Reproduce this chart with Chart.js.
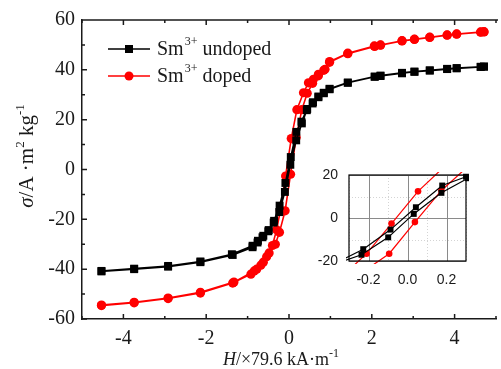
<!DOCTYPE html>
<html><head><meta charset="utf-8">
<script src="https://cdn.jsdelivr.net/npm/chart.js@4/dist/chart.umd.min.js"></script>
<style>
html,body{margin:0;padding:0;background:#fff;overflow:hidden;width:501px;height:369px;}
#wrap{position:relative;width:501px;height:369px;overflow:hidden;background:#fff;}
#main{position:absolute;left:0;top:0;}
#inset{position:absolute;left:300px;top:160px;}
</style></head><body>
<div id="wrap">
<canvas id="main" width="504" height="369" style="width:504px;height:369px"></canvas>
<canvas id="inset" width="200" height="125" style="width:200px;height:125px"></canvas>
</div>
<script>
// ---- data (H in units of 79.6 kA/m, sigma in A·m²/kg) ----
const seriesNames = ['undoped', 'doped'];

const undopedDescH = [4.71, 4.63, 4.05, 3.82, 3.40, 3.03, 2.73, 2.21, 2.07, 1.42, 0.98, 0.84, 0.71, 0.58, 0.44, 0.30, 0.178, 0.043, -0.087, -0.227, -0.36, -0.49, -0.62, -0.75, -0.88, -1.38, -2.14, -2.92, -3.74, -4.53];
const undopedDescS = [41.3, 41.2, 40.7, 40.4, 39.8, 39.3, 38.8, 37.7, 37.3, 34.9, 32.4, 30.8, 29.3, 27.0, 24.3, 19.2, 15.1, 5.0, -5.4, -14.5, -20.6, -24.3, -26.6, -28.6, -30.6, -34.0, -36.9, -38.7, -39.8, -40.7];
const undopedAscH = [-4.53, -3.74, -2.92, -2.14, -1.36, -0.88, -0.76, -0.64, -0.50, -0.37, -0.236, -0.099, 0.032, 0.174, 0.31, 0.43, 0.57, 0.71, 0.84, 0.98, 1.42, 2.07, 2.21, 2.73, 3.03, 3.40, 3.82, 4.05, 4.63, 4.71];
const undopedAscS = [-40.9, -40.0, -39.0, -37.2, -34.3, -31.2, -29.3, -27.2, -24.8, -21.3, -17.1, -9.0, 1.9, 11.7, 18.5, 23.8, 26.5, 29.0, 30.6, 32.2, 34.8, 37.2, 37.5, 38.6, 39.2, 39.7, 40.3, 40.6, 41.2, 41.3];

const dopedDescH = [4.71, 4.63, 4.05, 3.82, 3.40, 3.03, 2.73, 2.21, 2.06, 1.42, 0.98, 0.87, 0.71, 0.59, 0.47, 0.35, 0.19, 0.054, -0.082, -0.21, -0.30, -0.40, -0.54, -0.68, -0.84, -1.33, -2.14, -2.92, -3.74, -4.53];
const dopedDescS = [55.3, 55.2, 54.4, 54.0, 53.1, 52.3, 51.7, 50.0, 49.6, 46.7, 43.3, 40.2, 38.2, 36.2, 34.8, 30.8, 24.0, 12.4, -2.6, -16.6, -24.2, -30.5, -35.0, -38.4, -40.7, -45.2, -49.3, -51.6, -53.3, -54.4];
const dopedAscH = [-4.53, -3.74, -2.92, -2.14, -1.36, -0.92, -0.78, -0.62, -0.48, -0.33, -0.23, -0.094, 0.038, 0.174, 0.31, 0.44, 0.57, 0.71, 0.84, 0.98, 1.42, 2.07, 2.21, 2.73, 3.03, 3.40, 3.82, 4.05, 4.63, 4.71];
const dopedAscS = [-54.6, -53.5, -51.8, -49.6, -45.6, -42.0, -40.0, -37.2, -33.5, -30.0, -25.2, -16.6, -1.9, 12.8, 24.0, 30.6, 34.6, 37.6, 39.8, 43.0, 46.5, 49.4, 49.9, 51.6, 52.2, 53.0, 53.9, 54.3, 55.1, 55.2];

const mainXTicks = [-4, -2, 0, 2, 4];
const mainYTicks = [-60, -40, -20, 0, 20, 40, 60];
const insetXTicks = [-0.2, 0.0, 0.2];
const insetYTicks = [-20, 0, 20];

// ---- helpers ----
const SERIF = "'Liberation Serif','Times New Roman',serif";
const SANS = "'Liberation Sans',Arial,sans-serif";
function pts(h, s) { return h.map((v, i) => ({ x: v, y: s[i] })); }
const undopedLoop = pts(undopedDescH, undopedDescS).concat(pts(undopedAscH, undopedAscS));
const dopedLoop = pts(dopedDescH, dopedDescS).concat(pts(dopedAscH, dopedAscS));
const near = (v, list) => list.some(t => Math.abs(t - v) < 1e-6);

function drawRich(ctx, parts, x, y) {
  let total = 0;
  parts.forEach(p => { ctx.font = (p.italic ? 'italic ' : '') + p.size + 'px ' + SERIF; p.w = ctx.measureText(p.t).width; total += p.w; });
  let cx = x - total / 2;
  ctx.textBaseline = 'alphabetic'; ctx.textAlign = 'left';
  parts.forEach(p => { ctx.font = (p.italic ? 'italic ' : '') + p.size + 'px ' + SERIF; ctx.fillText(p.t, cx, y + (p.dy || 0)); cx += p.w; });
}

const mainDeco = {
  id: 'mainDeco',
  afterDraw(chart) {
    const { ctx, chartArea: a, scales: { x, y } } = chart;
    ctx.save();
    ctx.strokeStyle = '#1a1a1a'; ctx.lineWidth = 1.5;
    ctx.beginPath();
    ctx.moveTo(a.left, a.top); ctx.lineTo(a.right + 2, a.top);
    x.ticks.forEach(t => {
      const px = x.getPixelForValue(t.value);
      const L = near(t.value, mainXTicks) ? 5 : 3;
      ctx.moveTo(px, a.bottom); ctx.lineTo(px, a.bottom - L);
      ctx.moveTo(px, a.top); ctx.lineTo(px, a.top + L);
    });
    y.ticks.forEach(t => {
      const py = y.getPixelForValue(t.value);
      const L = near(t.value, mainYTicks) ? 5 : 3;
      ctx.moveTo(a.left, py); ctx.lineTo(a.left + L, py);
    });
    ctx.stroke();

    // legend
    const items = [
      { y: 49, color: '#000', style: 'rect', name: seriesNames[0] },
      { y: 76, color: '#ff0000', style: 'circle', name: seriesNames[1] }
    ];
    items.forEach(it => {
      ctx.strokeStyle = it.color; ctx.fillStyle = it.color; ctx.lineWidth = 1.5;
      ctx.beginPath(); ctx.moveTo(108, it.y); ctx.lineTo(150, it.y); ctx.stroke();
      ctx.beginPath();
      if (it.style === 'rect') ctx.rect(125, it.y - 4, 8, 8); else ctx.arc(129, it.y, 4.5, 0, Math.PI * 2);
      ctx.fill();
      ctx.fillStyle = '#1a1a1a';
      ctx.textAlign = 'left'; ctx.textBaseline = 'alphabetic';
      ctx.font = '20px ' + SERIF; ctx.fillText('Sm', 157, it.y + 6);
      const w1 = ctx.measureText('Sm').width;
      ctx.font = '12px ' + SERIF; ctx.fillText('3+', 157 + w1 + 1, it.y - 4);
      const w2 = ctx.measureText('3+').width;
      ctx.font = '20px ' + SERIF; ctx.fillText(' ' + it.name, 157 + w1 + 1 + w2, it.y + 6);
    });

    // axis titles
    ctx.fillStyle = '#1a1a1a';
    drawRich(ctx, [
      { t: 'H', size: 18, italic: true },
      { t: '/×79.6 kA·m', size: 18 },
      { t: '-1', size: 12, dy: -8 }
    ], 281, 365);
    ctx.save();
    ctx.translate(33, 156);
    ctx.rotate(-Math.PI / 2);
    drawRich(ctx, [
      { t: 'σ', size: 21, italic: true },
      { t: '/A ·m', size: 21 },
      { t: '2', size: 13, dy: -9 },
      { t: ' kg', size: 21 },
      { t: '-1', size: 13, dy: -9 }
    ], 0, 0);
    ctx.restore();
    ctx.restore();
  }
};

new Chart(document.getElementById('main'), {
  type: 'scatter',
  data: {
    datasets: [
      { data: undopedLoop, showLine: true, borderColor: '#000', backgroundColor: '#000', borderWidth: 1.6,
        pointStyle: 'rect', pointRadius: 5.6, pointBorderWidth: 0, tension: 0 },
      { data: dopedLoop, showLine: true, borderColor: '#ff0000', backgroundColor: '#ff0000', borderWidth: 1.6,
        pointStyle: 'circle', pointRadius: 4.6, pointBorderWidth: 0, tension: 0 }
    ]
  },
  options: {
    responsive: false, animation: false, devicePixelRatio: 1,
    layout: { padding: { top: 20, right: 2, left: 0, bottom: 0 } },
    plugins: { legend: { display: false }, tooltip: { enabled: false } },
    scales: {
      x: {
        type: 'linear', min: -5, max: 5, position: 'bottom',
        afterFit(s) { s.height = 50; },
        border: { display: true, color: '#1a1a1a', width: 1.5 },
        grid: { drawOnChartArea: false, drawTicks: false },
        ticks: { stepSize: 1, autoSkip: false, maxRotation: 0, padding: 8, color: '#1a1a1a',
          font: { family: SERIF, size: 20 },
          callback: v => near(v, mainXTicks) ? String(v) : '' }
      },
      y: {
        type: 'linear', min: -60, max: 60,
        afterFit(s) { s.width = 82; },
        border: { display: true, color: '#1a1a1a', width: 1.5 },
        grid: { drawOnChartArea: false, drawTicks: false },
        ticks: { stepSize: 10, autoSkip: false, padding: 7, color: '#1a1a1a',
          font: { family: SERIF, size: 20 },
          callback: v => near(v, mainYTicks) ? String(v) : '' }
      }
    }
  },
  plugins: [mainDeco]
});

// ---- inset ----
const insetDeco = {
  id: 'insetDeco',
  beforeDatasetsDraw(chart) {
    const { ctx, chartArea: a, scales: { x, y } } = chart;
    ctx.save();
    ctx.lineWidth = 1;
    x.ticks.forEach(t => {
      const px = Math.round(x.getPixelForValue(t.value)) + 0.5;
      const major = near(t.value, insetXTicks);
      ctx.strokeStyle = major ? '#8a8a8a' : '#d4d4d4';
      ctx.setLineDash(major ? [] : [1, 2]);
      ctx.beginPath(); ctx.moveTo(px, a.top); ctx.lineTo(px, a.bottom); ctx.stroke();
    });
    y.ticks.forEach(t => {
      const py = Math.round(y.getPixelForValue(t.value)) + 0.5;
      const major = near(t.value, insetYTicks);
      ctx.strokeStyle = major ? '#8a8a8a' : '#d4d4d4';
      ctx.setLineDash(major ? [] : [1, 2]);
      ctx.beginPath(); ctx.moveTo(a.left, py); ctx.lineTo(a.right, py); ctx.stroke();
    });
    ctx.restore();
  },
  afterDraw(chart) {
    const { ctx, chartArea: a } = chart;
    ctx.save();
    ctx.strokeStyle = '#000'; ctx.lineWidth = 1.2;
    ctx.strokeRect(a.left, a.top, a.right - a.left, a.bottom - a.top);
    ctx.restore();
  }
};

new Chart(document.getElementById('inset'), {
  type: 'scatter',
  data: {
    datasets: [
      { data: undopedLoop, showLine: true, borderColor: '#000', backgroundColor: '#000', borderWidth: 1.2,
        pointStyle: 'rect', pointRadius: 4.2, pointBorderWidth: 0, tension: 0, clip: 3 },
      { data: dopedLoop, showLine: true, borderColor: '#ff0000', backgroundColor: '#ff0000', borderWidth: 1.2,
        pointStyle: 'circle', pointRadius: 3.3, pointBorderWidth: 0, tension: 0, clip: 3 }
    ]
  },
  options: {
    responsive: false, animation: false, devicePixelRatio: 1,
    layout: { padding: { top: 15, right: 34, left: 0, bottom: 0 } },
    plugins: { legend: { display: false }, tooltip: { enabled: false } },
    scales: {
      x: {
        type: 'linear', min: -0.3, max: 0.3,
        afterFit(s) { s.height = 24; },
        border: { display: false },
        grid: { display: false },
        ticks: { stepSize: 0.1, autoSkip: false, maxRotation: 0, padding: 3, color: '#1a1a1a',
          font: { family: SANS, size: 14 },
          callback: v => near(v, insetXTicks) ? v.toFixed(1) : '' }
      },
      y: {
        type: 'linear', min: -20, max: 20,
        afterFit(s) { s.width = 49; },
        border: { display: false },
        grid: { display: false },
        ticks: { stepSize: 10, autoSkip: false, padding: 3, color: '#1a1a1a',
          font: { family: SANS, size: 14 },
          callback: v => near(v, insetYTicks) ? String(v) : '' }
      }
    }
  },
  plugins: [insetDeco]
});
</script>
</body></html>
